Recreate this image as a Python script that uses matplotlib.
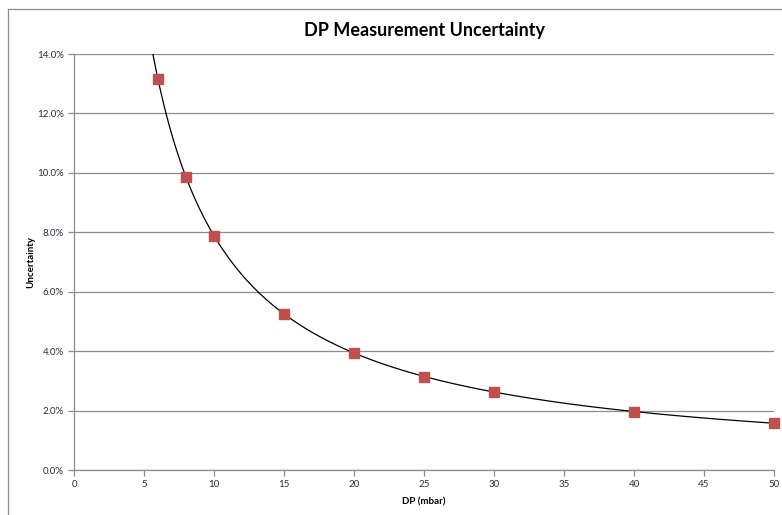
import numpy as np
import matplotlib
matplotlib.use("Agg")
import matplotlib.pyplot as plt
from matplotlib.ticker import PercentFormatter

# data
dp = [6, 8, 10, 15, 20, 25, 30, 40, 50]
unc = [0.1316, 0.0986, 0.0788, 0.0525, 0.0394, 0.0314, 0.0263, 0.0196, 0.0158]
xticks = [0, 5, 10, 15, 20, 25, 30, 35, 40, 45, 50]
yticks = [0.0, 0.02, 0.04, 0.06, 0.08, 0.10, 0.12, 0.14]

plt.rcParams['font.family'] = ['Lato', 'DejaVu Sans']

fig = plt.figure(figsize=(7.82, 5.15), dpi=100)
ax = fig.add_axes([74/782, 45/515, 700/782, 416/515])

# power trendline fitted to the points
b, a = np.polyfit(np.log(dp), np.log(unc), 1)
xt = np.linspace(5, 50, 400)
ax.plot(xt, np.exp(a) * xt**b, color='black', lw=0.9, zorder=2)

ax.plot(dp, unc, 's', color='#C0504D', markersize=6.5, markeredgecolor='#C0504D',
        zorder=3, clip_on=False)

ax.set_xlim(0, 50)
ax.set_ylim(0, 0.14)
ax.set_xticks(xticks)
ax.set_yticks(yticks)
ax.yaxis.set_major_formatter(PercentFormatter(1.0, decimals=1))
ax.grid(axis='y', color='#8c8c8c', lw=0.9)
ax.set_axisbelow(True)

for s in ['top', 'right']:
    ax.spines[s].set_visible(False)
for s in ['left', 'bottom']:
    ax.spines[s].set_color('#8c8c8c')
    ax.spines[s].set_linewidth(0.9)
ax.tick_params(axis='both', colors='#8c8c8c', labelcolor='#2a2a4a', labelsize=7, length=4, width=0.9)

ax.set_title('DP Measurement Uncertainty', fontsize=13, fontweight='bold', pad=13)
ax.set_xlabel('DP (mbar)', fontsize=7, fontweight='bold', labelpad=6)
ax.set_ylabel('Uncertainty', fontsize=7, fontweight='bold', labelpad=1)

# chart area border (top and left edges visible)
fig.add_artist(plt.Line2D([8/782, 1], [1 - 9/515, 1 - 9/515], color='#8c8c8c', lw=0.9))
fig.add_artist(plt.Line2D([8/782, 8/782], [0, 1 - 9/515], color='#8c8c8c', lw=0.9))

fig.savefig('out.png', dpi=100)
